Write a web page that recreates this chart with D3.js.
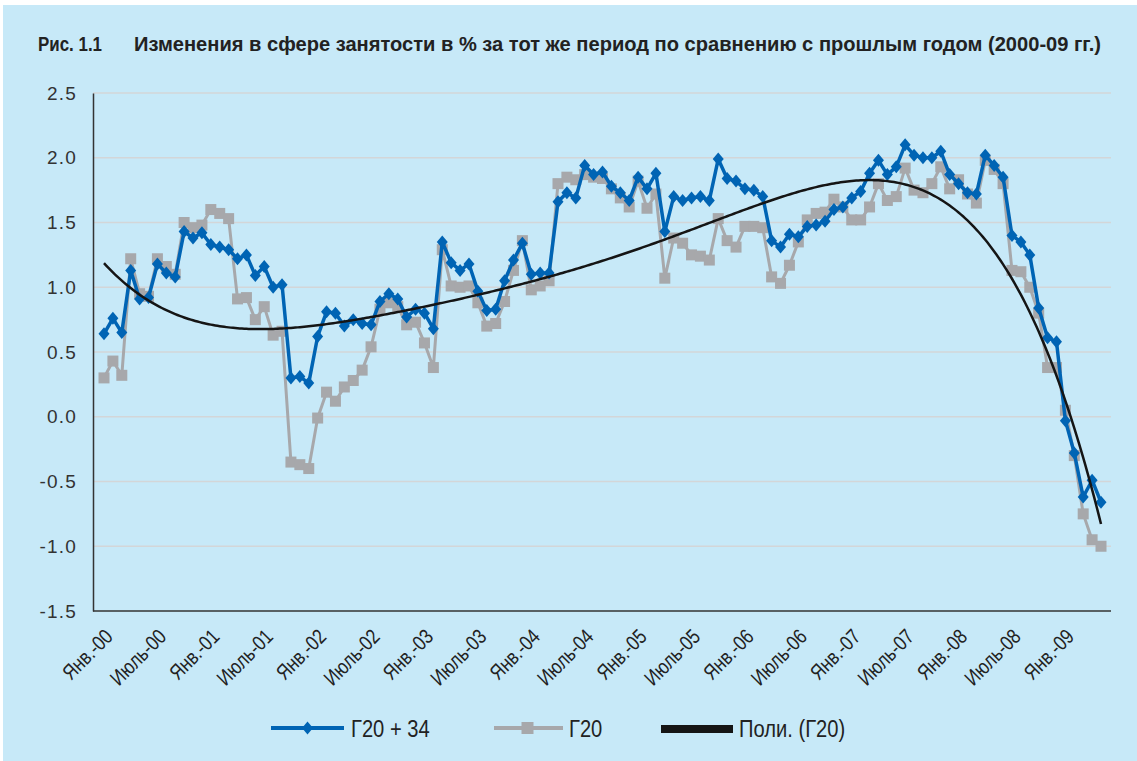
<!DOCTYPE html>
<html lang="ru">
<head>
<meta charset="UTF-8">
<title>Рис. 1.1</title>
<script src="https://cdn.jsdelivr.net/npm/d3@7"></script>
<style>
  body { margin: 0; background: #fff; }
  svg { display: block; }
</style>
</head>
<body>
<svg id="chart" width="1137" height="761"></svg>
<script>
// monthly values, Jan 2000 .. May 2009 (113 months)
var g20plus34 = [
  0.64, 0.76, 0.65, 1.13, 0.91, 0.92, 1.18, 1.11, 1.08, 1.43,
  1.38, 1.42, 1.33, 1.31, 1.29, 1.22, 1.25, 1.09, 1.16, 1.00,
  1.02, 0.30, 0.31, 0.26, 0.62, 0.81, 0.80, 0.70, 0.75, 0.72,
  0.71, 0.89, 0.95, 0.91, 0.77, 0.83, 0.80, 0.68, 1.35, 1.19,
  1.13, 1.18, 0.97, 0.82, 0.83, 1.05, 1.21, 1.34, 1.10, 1.11,
  1.11, 1.66, 1.73, 1.69, 1.94, 1.87, 1.89, 1.78, 1.73, 1.67,
  1.85, 1.76, 1.88, 1.43, 1.70, 1.67, 1.69, 1.70, 1.67, 1.99,
  1.84, 1.82, 1.76, 1.75, 1.70, 1.36, 1.31, 1.41, 1.39, 1.47,
  1.48, 1.51, 1.60, 1.62, 1.69, 1.74, 1.88, 1.98, 1.87, 1.93,
  2.10, 2.02, 2.00, 2.00, 2.05, 1.87, 1.80, 1.73, 1.72, 2.02,
  1.94, 1.85, 1.40, 1.35, 1.25, 0.84, 0.61, 0.58, -0.03, -0.28,
  -0.62, -0.49, -0.66
];
var g20 = [
  0.30, 0.43, 0.32, 1.22, 0.95, 0.93, 1.22, 1.16, 1.10, 1.50,
  1.46, 1.48, 1.60, 1.57, 1.53, 0.91, 0.92, 0.75, 0.85, 0.63,
  0.66, -0.35, -0.37, -0.40, -0.01, 0.19, 0.12, 0.23, 0.28, 0.36,
  0.54, 0.83, 0.88, 0.85, 0.71, 0.73, 0.57, 0.38, 1.29, 1.01,
  1.00, 1.01, 0.88, 0.70, 0.72, 0.89, 1.13, 1.36, 0.98, 1.01,
  1.05, 1.80, 1.85, 1.83, 1.87, 1.85, 1.84, 1.76, 1.69, 1.62,
  1.82, 1.61, 1.72, 1.07, 1.38, 1.34, 1.25, 1.24, 1.21, 1.53,
  1.36, 1.31, 1.47, 1.47, 1.46, 1.08, 1.03, 1.17, 1.35, 1.52,
  1.57, 1.58, 1.68, 1.62, 1.52, 1.52, 1.62, 1.80, 1.67, 1.70,
  1.92, 1.75, 1.73, 1.80, 1.93, 1.76, 1.83, 1.72, 1.65, 1.98,
  1.91, 1.80, 1.13, 1.12, 1.00, 0.80, 0.38, 0.38, 0.05, -0.30,
  -0.75, -0.95, -1.00
];
var tickLabels = ["Янв.-00","Июль-00","Янв.-01","Июль-01","Янв.-02","Июль-02",
  "Янв.-03","Июль-03","Янв.-04","Июль-04","Янв.-05","Июль-05","Янв.-06",
  "Июль-06","Янв.-07","Июль-07","Янв.-08","Июль-08","Янв.-09"];
var yTicks = [2.5, 2.0, 1.5, 1.0, 0.5, 0.0, -0.5, -1.0, -1.5];
var seriesNames = ["Г20 + 34", "Г20", "Поли. (Г20)"];
var trendDegree = 5;

var sans = "'Liberation Sans',Arial,sans-serif";
var blue = "#0064b4", grey = "#a7a8ab";

var svg = d3.select("#chart");
svg.append("rect").attr("x", 3).attr("y", 5).attr("width", 1134).attr("height", 756)
  .attr("fill", "#c7e9f8");

// title (squeezed to look like a narrow face)
svg.append("text").attr("x", 38).attr("y", 51)
  .attr("font-family", sans).attr("font-weight", "bold").attr("font-size", 20)
  .attr("fill", "#222").attr("textLength", 64).attr("lengthAdjust", "spacingAndGlyphs")
  .text("Рис. 1.1");
svg.append("text").attr("x", 134).attr("y", 51)
  .attr("font-family", sans).attr("font-weight", "bold").attr("font-size", 20)
  .attr("fill", "#222").attr("textLength", 967).attr("lengthAdjust", "spacingAndGlyphs")
  .text("Изменения в сфере занятости в % за тот же период по сравнению с прошлым годом (2000-09 гг.)");

var idx = d3.range(g20.length);
var x = d3.scalePoint().domain(idx).range([104, 1101]);
var xf = d3.scaleLinear().domain([0, g20.length - 1]).range(x.range());
var y = d3.scaleLinear().domain([-1.5, 2.5]).range([611, 93]);

// grid
svg.append("g").selectAll("line").data(yTicks.filter(function(d){ return d > -1.5; }))
  .enter().append("line")
  .attr("x1", 93).attr("x2", 1111)
  .attr("y1", function(d){ return y(d); }).attr("y2", function(d){ return y(d); })
  .attr("stroke", "#d3d6d8").attr("stroke-width", 1.5);

// y axis
var yAxis = svg.append("g").attr("transform", "translate(93,0)")
  .call(d3.axisLeft(y).tickValues(yTicks).tickSize(0).tickPadding(16)
    .tickFormat(function(d){ return d.toFixed(1); }));
yAxis.select(".domain").attr("stroke", "#333").attr("stroke-width", 1.5);
yAxis.selectAll("text").attr("font-family", sans)
  .attr("font-size", 19).attr("letter-spacing", 1.2).attr("fill", "#333");

// x axis line
svg.append("line").attr("x1", 93).attr("x2", 1111).attr("y1", 611).attr("y2", 611)
  .attr("stroke", "#333").attr("stroke-width", 1.5);

// x tick labels, every 6 months
svg.append("g").selectAll("text").data(tickLabels).enter().append("text")
  .attr("transform", function(d, i){
    return "translate(" + (x(i * 6) + 10) + ",638) rotate(-45) scale(0.82,1)";
  })
  .attr("text-anchor", "end")
  .attr("font-family", sans).attr("font-size", 21).attr("fill", "#222")
  .text(function(d){ return d; });

// polynomial trendline of Г20 (least squares)
function polyFit(vals, deg) {
  var n = vals.length, c = (n + 1) / 2, s = (n - 1) / 2;
  var A = [], b = [];
  for (var r = 0; r <= deg; r++) { A.push(new Array(deg + 1).fill(0)); b.push(0); }
  vals.forEach(function(v, i) {
    var t = (i + 1 - c) / s;
    for (var r = 0; r <= deg; r++) {
      for (var k = 0; k <= deg; k++) A[r][k] += Math.pow(t, r + k);
      b[r] += v * Math.pow(t, r);
    }
  });
  for (var p = 0; p <= deg; p++) {
    var m = p;
    for (var q = p + 1; q <= deg; q++) if (Math.abs(A[q][p]) > Math.abs(A[m][p])) m = q;
    var tmp = A[p]; A[p] = A[m]; A[m] = tmp; tmp = b[p]; b[p] = b[m]; b[m] = tmp;
    for (var q = p + 1; q <= deg; q++) {
      var f = A[q][p] / A[p][p];
      for (var k = p; k <= deg; k++) A[q][k] -= f * A[p][k];
      b[q] -= f * b[p];
    }
  }
  var coef = new Array(deg + 1).fill(0);
  for (var p = deg; p >= 0; p--) {
    var sum = b[p];
    for (var k = p + 1; k <= deg; k++) sum -= A[p][k] * coef[k];
    coef[p] = sum / A[p][p];
  }
  return function(i) {
    var t = (i + 1 - c) / s, v = 0;
    for (var k = deg; k >= 0; k--) v = v * t + coef[k];
    return v;
  };
}
var trend = polyFit(g20, trendDegree);
var trendPts = d3.range(0, g20.length - 1 + 0.001, 0.25);

var line = d3.line().x(function(d, i){ return x(i); }).y(function(d){ return y(d); });

// Г20
svg.append("path").datum(g20).attr("d", line).attr("fill", "none")
  .attr("stroke", grey).attr("stroke-width", 3).attr("stroke-linejoin", "round");
svg.append("g").selectAll("rect").data(g20).enter().append("rect")
  .attr("x", function(d, i){ return x(i) - 5.5; }).attr("y", function(d){ return y(d) - 5.5; })
  .attr("width", 11).attr("height", 11).attr("fill", grey);

// Г20 + 34
svg.append("path").datum(g20plus34).attr("d", line).attr("fill", "none")
  .attr("stroke", blue).attr("stroke-width", 3.5).attr("stroke-linejoin", "round");
svg.append("g").selectAll("path").data(g20plus34).enter().append("path")
  .attr("d", "M0,-6.5L5.5,0L0,6.5L-5.5,0Z")
  .attr("transform", function(d, i){ return "translate(" + x(i) + "," + y(d) + ")"; })
  .attr("fill", blue);

// trend
svg.append("path").datum(trendPts)
  .attr("d", d3.line().x(function(d){ return xf(d); }).y(function(d){ return y(trend(d)); }))
  .attr("fill", "none").attr("stroke", "#151515").attr("stroke-width", 2.5);

// legend
var lg = svg.append("g").attr("font-family", sans).attr("font-size", 24).attr("fill", "#222");
function legendText(xp, s) {
  lg.append("text").attr("transform", "translate(" + xp + ",737) scale(0.84,1)").text(s);
}
lg.append("line").attr("x1", 271).attr("x2", 344).attr("y1", 728).attr("y2", 728)
  .attr("stroke", blue).attr("stroke-width", 4);
lg.append("path").attr("d", "M0,-6.5L5.5,0L0,6.5L-5.5,0Z")
  .attr("transform", "translate(307.5,728)").attr("fill", blue);
legendText(351, seriesNames[0]);
lg.append("line").attr("x1", 494).attr("x2", 563).attr("y1", 728).attr("y2", 728)
  .attr("stroke", grey).attr("stroke-width", 4);
lg.append("rect").attr("x", 521.5).attr("y", 722).attr("width", 12).attr("height", 12)
  .attr("fill", grey);
legendText(569, seriesNames[1]);
lg.append("line").attr("x1", 661).attr("x2", 733).attr("y1", 729).attr("y2", 729)
  .attr("stroke", "#151515").attr("stroke-width", 8);
legendText(739, seriesNames[2]);
</script>
</body>
</html>
